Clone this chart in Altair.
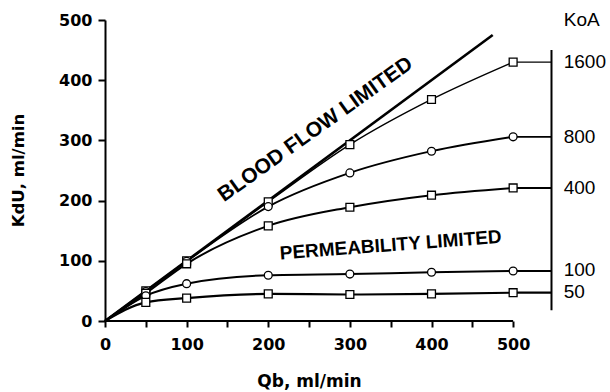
import altair as alt
import pandas as pd

# ---- data ----
qb = [50, 100, 200, 300, 400, 500]
koa_names = ["1600", "800", "400", "100", "50"]
koa_1600 = [50, 100, 198, 293, 368, 430]
koa_800 = [49, 99, 190, 246, 282, 306]
koa_400 = [46, 95, 158, 189, 209, 221]
koa_100 = [42, 62, 76, 78, 81, 83]
koa_50 = [31, 38, 45, 44, 45, 47]
koa_shapes = ["square", "circle", "square", "circle", "square"]
koa_widths = [1.4, 1.8, 2.0, 2.0, 2.2]

identity_x = [0, 475]
extend_to = 547          # right-hand bracket line (data x)
bracket_lo, bracket_hi = 18, 450
label_x = 562
koa_label_y = [430, 306, 221, 85, 48]
koa_header = "KoA"
koa_header_y = 500

series = [koa_1600, koa_800, koa_400, koa_100, koa_50]

line_rows, pt_rows, ext_rows = [], [], []
for name, vals, shp, w in zip(koa_names, series, koa_shapes, koa_widths):
    line_rows.append({"koa": name, "qb": 0, "k": 0, "w": w})
    for x, y in zip(qb, vals):
        line_rows.append({"koa": name, "qb": x, "k": y, "w": w})
        pt_rows.append({"koa": name, "qb": x, "k": y, "shape": shp})
    ext_rows.append({"koa": name, "x": qb[-1], "x2": extend_to, "k": vals[-1], "w": w})

lines_df = pd.DataFrame(line_rows)
pts_df = pd.DataFrame(pt_rows)
ext_df = pd.DataFrame(ext_rows)
ident_df = pd.DataFrame({"qb": identity_x, "k": identity_x})
labels_df = pd.DataFrame({"label": [koa_header] + koa_names,
                          "x": [label_x] * 6,
                          "y": [koa_header_y] + koa_label_y})
ann_df = pd.DataFrame({"label": ["BLOOD FLOW LIMITED", "PERMEABILITY LIMITED"],
                       "x": [258, 350], "y": [318, 126], "angle": [324.5, 355.7],
                       "size": [21, 19]})

xscale = alt.Scale(domain=[0, 615], nice=False, zero=False)
yscale = alt.Scale(domain=[0, 500], nice=False)

FONT = "DejaVu Sans"
NARROW = "Liberation Sans"

xaxis = alt.Axis(values=list(range(0, 501, 50)),
                 labelExpr="datum.value % 100 == 0 ? datum.label : ''",
                 domain=False, grid=False, tickSize=6, tickWidth=2, tickColor="black",
                 labelFont=FONT, labelFontWeight="bold", labelFontSize=16, labelColor="black",
                 labelPadding=9, labelFlush=False, labelOverlap=False,
                 title="Qb, ml/min", titleFont=FONT, titleFontWeight="bold", titleFontSize=17,
                 titleColor="black", titleX=204, titleY=60, titleBaseline="middle",
                 titleAlign="center")
yaxis = alt.Axis(values=list(range(0, 501, 50)),
                 labelExpr="datum.value % 100 == 0 ? datum.label : ''",
                 domain=True, domainWidth=2, domainColor="black", grid=False,
                 tickSize=7, tickWidth=2, tickColor="black",
                 labelFont=FONT, labelFontWeight="bold", labelFontSize=16, labelColor="black",
                 labelPadding=6, labelFlush=False, labelOverlap=False,
                 title="KdU, ml/min", titleFont=FONT, titleFontWeight="bold", titleFontSize=16.5,
                 titleColor="black", titleX=-87, titleY=150, titleAngle=270,
                 titleBaseline="middle", titleAlign="center")

base_x = alt.X("qb:Q", scale=xscale, axis=xaxis)
base_y = alt.Y("k:Q", scale=yscale, axis=yaxis)

curves = alt.Chart(lines_df).mark_line(color="black", interpolate="monotone").encode(
    x=base_x, y=base_y, detail="koa:N",
    strokeWidth=alt.StrokeWidth("w:Q", scale=None))

ident = alt.Chart(ident_df).mark_line(color="black", strokeWidth=2.6).encode(
    x=alt.X("qb:Q", scale=xscale), y=alt.Y("k:Q", scale=yscale))

ext = alt.Chart(ext_df).mark_rule(color="black").encode(
    x=alt.X("x:Q", scale=xscale), x2="x2:Q", y=alt.Y("k:Q", scale=yscale),
    strokeWidth=alt.StrokeWidth("w:Q", scale=None))

bracket = alt.Chart(pd.DataFrame({"x": [extend_to], "y": [bracket_lo], "y2": [bracket_hi]})).mark_rule(
    color="black", strokeWidth=2).encode(
    x=alt.X("x:Q", scale=xscale), y=alt.Y("y:Q", scale=yscale), y2="y2:Q")

xline = alt.Chart(pd.DataFrame({"x": [0], "x2": [500], "y": [0]})).mark_rule(
    color="black", strokeWidth=2).encode(
    x=alt.X("x:Q", scale=xscale), x2="x2:Q", y=alt.Y("y:Q", scale=yscale))

points = alt.Chart(pts_df).mark_point(filled=True, fill="white", stroke="black",
                                      strokeWidth=1.3, size=62, opacity=1).encode(
    x=alt.X("qb:Q", scale=xscale), y=alt.Y("k:Q", scale=yscale),
    shape=alt.Shape("shape:N", scale=None))

labels = alt.Chart(labels_df).mark_text(align="left", baseline="middle", font=NARROW,
                                        fontSize=19, color="black").encode(
    x=alt.X("x:Q", scale=xscale), y=alt.Y("y:Q", scale=yscale), text="label:N")

ann = alt.Chart(ann_df).mark_text(align="center", baseline="middle", font=NARROW,
                                  fontWeight="bold", color="black").encode(
    x=alt.X("x:Q", scale=xscale), y=alt.Y("y:Q", scale=yscale), text="label:N",
    angle=alt.Angle("angle:Q", scale=None),
    size=alt.Size("size:Q", scale=None))

chart = alt.layer(curves, ident, ext, bracket, xline, points, labels, ann).properties(
    width=502, height=301,
    autosize=alt.AutoSizeParams(type="none"),
    padding={"left": 105, "top": 20, "right": 0, "bottom": 71},
    background="white",
).configure_view(stroke=None)

chart.save("out.html", embed_options={"renderer": "svg", "actions": False})
